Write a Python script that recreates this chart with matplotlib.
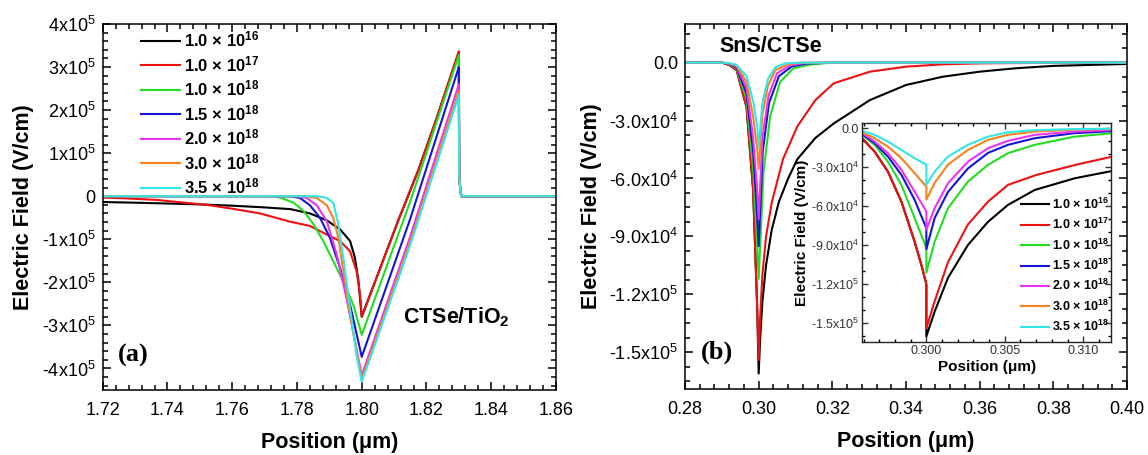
import matplotlib
matplotlib.use("Agg")
import matplotlib.pyplot as plt
from matplotlib.ticker import FixedLocator, FixedFormatter, MultipleLocator

plt.rcParams['font.family'] = ['Liberation Sans', 'DejaVu Sans']
plt.rcParams['mathtext.fontset'] = 'custom'
plt.rcParams['mathtext.rm'] = 'Liberation Sans'
plt.rcParams['mathtext.it'] = 'Liberation Sans:italic'
plt.rcParams['mathtext.bf'] = 'Liberation Sans:bold'
plt.rcParams['mathtext.default'] = 'rm'

# ---------------- data ----------------
labels = ["1.0 × 10$^{\\mathbf{16}}$", "1.0 × 10$^{\\mathbf{17}}$", "1.0 × 10$^{\\mathbf{18}}$",
          "1.5 × 10$^{\\mathbf{18}}$", "2.0 × 10$^{\\mathbf{18}}$", "3.0 × 10$^{\\mathbf{18}}$",
          "3.5 × 10$^{\\mathbf{18}}$"]
colors = ['#000000', '#ee1111', '#22dd22', '#1515d0', '#ee33ee', '#f58220', '#33e6e6']

# Panel (a): CTSe/TiO2, (position um, field V/cm)
a_black = [(1.72, -1.35e4), (1.73, -1.5e4), (1.74, -1.7e4), (1.75, -1.9e4), (1.76, -2.2e4),
           (1.77, -2.6e4), (1.778, -3.0e4), (1.784, -4.0e4), (1.7892, -5.6e4), (1.7933, -7.7e4),
           (1.7964, -1.04e5), (1.7979, -1.43e5), (1.799, -1.98e5), (1.80, -2.8e5),
           (1.8112, -5.8e4), (1.8174, 5.9e4), (1.8229, 1.76e5), (1.83, 3.35e5),
           (1.8301, 5e4), (1.8305, 1e4), (1.8308, 0), (1.86, 0)]
a_red = [(1.72, -3.3e3), (1.7264, -4.7e3), (1.7367, -8.6e3), (1.745, -1.5e4), (1.752, -2.0e4),
         (1.76, -2.9e4), (1.7686, -4.0e4), (1.7778, -5.9e4), (1.784, -6.9e4), (1.7892, -8.9e4),
         (1.7933, -1.04e5), (1.7964, -1.28e5), (1.7984, -1.74e5), (1.7995, -2.29e5), (1.80, -2.8e5),
         (1.8112, -5.8e4), (1.8174, 5.9e4), (1.8229, 1.76e5), (1.83, 3.37e5),
         (1.8301, 5e4), (1.8305, 1e4), (1.8308, 0), (1.86, 0)]
a_green = [(1.72, 0), (1.772, 0), (1.7748, -3e3), (1.7789, -1.5e4), (1.782, -3.4e4),
           (1.7851, -6.5e4), (1.7881, -1.04e5), (1.7912, -1.51e5), (1.7943, -1.98e5),
           (1.7974, -2.52e5), (1.80, -3.22e5),
           (1.815, -1.2e4), (1.83, 3.28e5),
           (1.8301, 5e4), (1.8305, 1e4), (1.8308, 0), (1.86, 0)]
a_blue = [(1.72, 0), (1.7775, 0), (1.7809, -4e3), (1.784, -2.1e4), (1.7871, -5.0e4),
          (1.7902, -9.7e4), (1.7933, -1.67e5), (1.7964, -2.52e5), (1.80, -3.73e5),
          (1.815, -5.2e4), (1.83, 3.0e5),
          (1.8301, 5e4), (1.8305, 1e4), (1.8308, 0), (1.86, 0)]
a_magenta = [(1.72, 0), (1.780, 0), (1.783, -4e3), (1.7861, -2.1e4), (1.7892, -5.8e4),
             (1.7923, -1.36e5), (1.7953, -2.37e5), (1.80, -4.16e5),
             (1.815, -9.3e4), (1.83, 2.6e5),
             (1.8301, 5e4), (1.8305, 1e4), (1.8308, 0), (1.86, 0)]
a_orange = [(1.72, 0), (1.783, 0), (1.7861, -4e3), (1.7892, -2.1e4), (1.7912, -5.0e4),
            (1.7928, -9.7e4), (1.7943, -1.74e5), (1.7964, -2.76e5), (1.80, -4.24e5),
            (1.815, -1.05e5), (1.83, 2.45e5),
            (1.8301, 5e4), (1.8305, 1e4), (1.8308, 0), (1.86, 0)]
a_cyan = [(1.72, 0), (1.7861, 0), (1.7892, -4e3), (1.7912, -1.5e4), (1.7928, -6.6e4),
          (1.7943, -1.43e5), (1.7964, -2.6e5), (1.7984, -3.7e5), (1.80, -4.31e5),
          (1.815, -1.13e5), (1.83, 2.35e5),
          (1.8301, 5e4), (1.8305, 1e4), (1.8308, 0), (1.86, 0)]

# Panel (b) main: SnS/CTSe
b_black = [(0.28, 0), (0.290, 0), (0.292, -1.2e3), (0.294, -3.8e3), (0.2967, -2.3e4),
           (0.2985, -6.6e4), (0.2996, -1.27e5), (0.300, -1.61e5), (0.3004, -1.43e5),
           (0.301, -1.24e5), (0.302, -1.05e5), (0.3035, -8.7e4), (0.3055, -7.2e4),
           (0.308, -6.0e4), (0.3105, -5.0e4), (0.3154, -3.9e4), (0.3204, -3.15e4),
           (0.3302, -1.94e4), (0.34, -1.16e4), (0.35, -7.3e3), (0.36, -4.7e3),
           (0.37, -2.9e3), (0.38, -1.7e3), (0.39, -1.2e3), (0.40, -7e2)]
b_red = [(0.28, 0), (0.290, 0), (0.292, -1.2e3), (0.294, -3.8e3), (0.2967, -2.3e4),
         (0.2985, -6.6e4), (0.2996, -1.27e5), (0.300, -1.54e5), (0.3004, -1.32e5),
         (0.301, -1.1e5), (0.302, -9.0e4), (0.3036, -7.2e4), (0.3066, -5.0e4),
         (0.3105, -3.3e4), (0.3154, -1.94e4), (0.3204, -1.07e4), (0.3302, -4.7e3),
         (0.34, -2.1e3), (0.35, -9e2), (0.36, -4e2), (0.38, -1e2), (0.40, 0)]
b_green = [(0.28, 0), (0.290, 0), (0.292, -8e2), (0.294, -3e3), (0.2967, -1.9e4),
           (0.2985, -5.5e4), (0.2996, -9.5e4), (0.300, -1.12e5), (0.3013, -5.7e4),
           (0.3031, -2.8e4), (0.3058, -1.0e4), (0.3094, -3e3), (0.314, -1e3), (0.32, 0), (0.40, 0)]
b_blue = [(0.28, 0), (0.290, 0), (0.292, -6e2), (0.294, -2.5e3), (0.2967, -1.6e4),
          (0.2985, -4.6e4), (0.2996, -8e4), (0.300, -9.5e4), (0.3011, -4.6e4),
          (0.3028, -2.1e4), (0.3055, -7e3), (0.309, -2e3), (0.313, -5e2), (0.32, 0), (0.40, 0)]
b_magenta = [(0.28, 0), (0.290, 0), (0.292, -5e2), (0.294, -2e3), (0.2967, -1.3e4),
             (0.2985, -3.9e4), (0.2996, -6.6e4), (0.300, -8.1e4), (0.301, -3.9e4),
             (0.3027, -1.7e4), (0.305, -5.5e3), (0.3085, -1.5e3), (0.312, -3e2), (0.318, 0), (0.40, 0)]
b_orange = [(0.28, 0), (0.290, 0), (0.292, -4e2), (0.294, -1.6e3), (0.2967, -1e4),
            (0.2985, -2.8e4), (0.2996, -4.5e4), (0.300, -5.5e4), (0.301, -2.7e4),
            (0.3025, -1.2e4), (0.3045, -4e3), (0.308, -8e2), (0.312, 0), (0.40, 0)]
b_cyan = [(0.28, 0), (0.290, 0), (0.292, -3e2), (0.294, -1.2e3), (0.2967, -7e3),
          (0.2985, -2e4), (0.2996, -3.3e4), (0.300, -4.4e4), (0.301, -2.1e4),
          (0.3025, -8.5e3), (0.3045, -2.5e3), (0.307, -5e2), (0.311, 0), (0.40, 0)]

# Panel (b) inset
in_black = [(0.2959, -7.7e3), (0.2967, -1.8e4), (0.29755, -3.34e4), (0.29841, -5.65e4),
            (0.29925, -8.72e4), (0.29968, -1.05e5), (0.300, -1.2e5), (0.300, -1.6e5),
            (0.30053, -1.41e5), (0.30138, -1.15e5), (0.30265, -8.98e4), (0.30393, -7.2e4),
            (0.3052, -5.9e4), (0.30691, -4.75e4), (0.30946, -3.85e4), (0.3118, -3.3e4)]
in_red = [(0.2959, -7.7e3), (0.2967, -1.8e4), (0.29755, -3.34e4), (0.29841, -5.65e4),
          (0.29925, -8.72e4), (0.29968, -1.05e5), (0.300, -1.2e5), (0.300, -1.54e5),
          (0.30053, -1.33e5), (0.30138, -1.03e5), (0.30265, -7.4e4), (0.30393, -5.65e4),
          (0.3052, -4.36e4), (0.307, -3.6e4), (0.3095, -2.82e4), (0.3118, -2.2e4)]
in_green = [(0.2959, -5.1e3), (0.2967, -1.28e4), (0.29755, -2.57e4), (0.29841, -4.36e4),
            (0.29925, -6.9e4), (0.300, -9.2e4), (0.300, -1.11e5), (0.30053, -8.72e4),
            (0.30138, -6.15e4), (0.30265, -4.1e4), (0.30393, -2.82e4), (0.3052, -1.92e4),
            (0.30691, -1.28e4), (0.30946, -6.5e3), (0.3118, -3.9e3)]
in_blue = [(0.2959, -4.6e3), (0.2967, -1.15e4), (0.29755, -2.18e4), (0.29841, -3.59e4),
           (0.29925, -5.5e4), (0.300, -7.7e4), (0.300, -9.3e4), (0.30053, -6.9e4),
           (0.30138, -4.9e4), (0.30265, -3.1e4), (0.30393, -1.9e4), (0.3052, -1.28e4),
           (0.30691, -7.7e3), (0.30946, -3.8e3), (0.3118, -2.3e3)]
in_magenta = [(0.2959, -3.8e3), (0.2967, -1.03e4), (0.29755, -1.92e4), (0.29841, -3.2e4),
              (0.29925, -4.88e4), (0.300, -6.4e4), (0.300, -7.8e4), (0.30053, -6.15e4),
              (0.30138, -4.23e4), (0.30265, -2.57e4), (0.30393, -1.54e4), (0.3052, -9.8e3),
              (0.30691, -5.1e3), (0.30946, -2.6e3), (0.3118, -1.5e3)]
in_orange = [(0.2959, -3.1e3), (0.2967, -7.7e3), (0.29755, -1.42e4), (0.29841, -2.31e4),
             (0.29925, -3.46e4), (0.300, -4.49e4), (0.300, -5.5e4), (0.30053, -4.2e4),
             (0.30138, -2.8e4), (0.30265, -1.67e4), (0.30393, -9e3), (0.3052, -5.1e3),
             (0.30691, -2.6e3), (0.30946, -1.1e3), (0.3118, -6e2)]
in_cyan = [(0.2959, -2.1e3), (0.2967, -5.1e3), (0.29755, -1.03e4), (0.29841, -1.67e4),
           (0.29925, -2.31e4), (0.300, -2.82e4), (0.300, -4.36e4), (0.30053, -3.34e4),
           (0.30138, -2.18e4), (0.30265, -1.28e4), (0.30393, -6.5e3), (0.3052, -3.1e3),
           (0.30691, -1.5e3), (0.30946, -7e2), (0.3118, -4e2)]

a_yticks = [-4e5, -3e5, -2e5, -1e5, 0, 1e5, 2e5, 3e5, 4e5]
a_yticklabels = ["-4x10$^{5}$", "-3x10$^{5}$", "-2x10$^{5}$", "-1x10$^{5}$", "0",
                 "1x10$^{5}$", "2x10$^{5}$", "3x10$^{5}$", "4x10$^{5}$"]
a_xticks = [1.72, 1.74, 1.76, 1.78, 1.80, 1.82, 1.84, 1.86]
a_xticklabels = ["1.72", "1.74", "1.76", "1.78", "1.80", "1.82", "1.84", "1.86"]
b_yticks = [-1.5e5, -1.2e5, -9e4, -6e4, -3e4, 0]
b_yticklabels = ["-1.5x10$^{5}$", "-1.2x10$^{5}$", "-9.0x10$^{4}$", "-6.0x10$^{4}$",
                 "-3.0x10$^{4}$", "0.0"]
b_xticks = [0.28, 0.30, 0.32, 0.34, 0.36, 0.38, 0.40]
b_xticklabels = ["0.28", "0.30", "0.32", "0.34", "0.36", "0.38", "0.40"]
in_xticks = [0.300, 0.305, 0.310]
in_xticklabels = ["0.300", "0.305", "0.310"]

# ---------------- figure ----------------
fig = plt.figure(figsize=(11.48, 4.55), dpi=100)
ax_a = fig.add_axes([0.0895, 0.1429, 0.3948, 0.8044])
ax_b = fig.add_axes([0.5967, 0.1451, 0.3850, 0.8022])
ax_in = fig.add_axes([0.7509, 0.2484, 0.2173, 0.4813])

def style(ax, lw=1.1, major=6, minor=3.5):
    for s in ax.spines.values():
        s.set_linewidth(lw)
    ax.tick_params(which='both', direction='in', top=True, right=True, width=lw)
    ax.tick_params(which='major', length=major)
    ax.tick_params(which='minor', length=minor)

def draw(ax, series, lw):
    for pts, c, lab in zip(series, colors, labels):
        xs = [p[0] for p in pts]
        ys = [p[1] for p in pts]
        ax.plot(xs, ys, color=c, lw=lw, label=lab, solid_joinstyle='round')

# ---- panel (a)
draw(ax_a, [a_black, a_red, a_green, a_blue, a_magenta, a_orange, a_cyan], 1.5)
ax_a.set_xlim(1.72, 1.86)
ax_a.set_ylim(-4.5e5, 4e5)
ax_a.xaxis.set_major_locator(FixedLocator(a_xticks))
ax_a.xaxis.set_major_formatter(FixedFormatter(a_xticklabels))
ax_a.xaxis.set_minor_locator(MultipleLocator(0.004))
ax_a.yaxis.set_major_locator(FixedLocator(a_yticks))
ax_a.yaxis.set_major_formatter(FixedFormatter(a_yticklabels))
ax_a.yaxis.set_minor_locator(MultipleLocator(2e4))
style(ax_a)
ax_a.tick_params(labelsize=13)
ax_a.tick_params(axis='x', pad=9)
ax_a.tick_params(axis='y', pad=5)
ax_a.set_xlabel("Position (μm)", fontsize=15.5, fontweight='bold', labelpad=9)
ax_a.set_ylabel("Electric Field (V/cm)", fontsize=15.5, fontweight='bold', labelpad=6)
ax_a.legend(loc='upper left', bbox_to_anchor=(0.085, 0.985), frameon=False,
            prop={'weight': 'bold', 'size': 12}, handlelength=2.3, handletextpad=0.25,
            labelspacing=0.28, borderpad=0, borderaxespad=0)
ax_a.text(0.662, 0.2, "CTSe/TiO$_\\mathbf{2}$", transform=ax_a.transAxes,
          fontsize=15.5, fontweight='bold', ha='left', va='center')
ax_a.text(0.033, 0.095, "(a)", transform=ax_a.transAxes, fontsize=19, fontweight='bold',
          family='Liberation Serif', ha='left', va='center')

# ---- panel (b)
draw(ax_b, [b_black, b_red, b_green, b_blue, b_magenta, b_orange, b_cyan], 1.5)
ax_b.set_xlim(0.28, 0.40)
ax_b.set_ylim(-1.69e5, 2e4)
ax_b.xaxis.set_major_locator(FixedLocator(b_xticks))
ax_b.xaxis.set_major_formatter(FixedFormatter(b_xticklabels))
ax_b.xaxis.set_minor_locator(MultipleLocator(0.004))
ax_b.yaxis.set_major_locator(FixedLocator(b_yticks))
ax_b.yaxis.set_major_formatter(FixedFormatter(b_yticklabels))
ax_b.yaxis.set_minor_locator(MultipleLocator(7.5e3))
style(ax_b)
ax_b.tick_params(labelsize=13)
ax_b.tick_params(axis='x', pad=9)
ax_b.tick_params(axis='y', pad=5)
ax_b.set_xlabel("Position (μm)", fontsize=15.5, fontweight='bold', labelpad=9)
ax_b.set_ylabel("Electric Field (V/cm)", fontsize=15.5, fontweight='bold', labelpad=5)
ax_b.text(0.078, 0.937, "SnS/CTSe", transform=ax_b.transAxes, fontsize=15.5,
          fontweight='bold', ha='left', va='center')
ax_b.text(0.036, 0.101, "(b)", transform=ax_b.transAxes, fontsize=19, fontweight='bold',
          family='Liberation Serif', ha='left', va='center')

# ---- inset
draw(ax_in, [in_black, in_red, in_green, in_blue, in_magenta, in_orange, in_cyan], 1.5)
ax_in.set_xlim(0.2959, 0.3118)
ax_in.set_ylim(-1.644e5, 4e3)
ax_in.xaxis.set_major_locator(FixedLocator(in_xticks))
ax_in.xaxis.set_major_formatter(FixedFormatter(in_xticklabels))
ax_in.xaxis.set_minor_locator(MultipleLocator(0.001))
ax_in.yaxis.set_major_locator(FixedLocator(b_yticks))
ax_in.yaxis.set_major_formatter(FixedFormatter(b_yticklabels))
ax_in.yaxis.set_minor_locator(MultipleLocator(1e4))
style(ax_in, lw=1.0, major=4.5, minor=2.5)
ax_in.tick_params(labelsize=9, colors='#333333', pad=2)
for s in ax_in.spines.values():
    s.set_color('#222222')
ax_in.set_xlabel("Position (μm)", fontsize=11, fontweight='bold', labelpad=2)
ax_in.set_ylabel("Electric Field (V/cm)", fontsize=11, fontweight='bold', labelpad=1)
ax_in.legend(loc='lower right', bbox_to_anchor=(0.99, 0.035), frameon=False,
             prop={'weight': 'bold', 'size': 9}, handlelength=2.3, handletextpad=0.2,
             labelspacing=0.42, borderpad=0, borderaxespad=0)

fig.savefig("out.png", dpi=100)
